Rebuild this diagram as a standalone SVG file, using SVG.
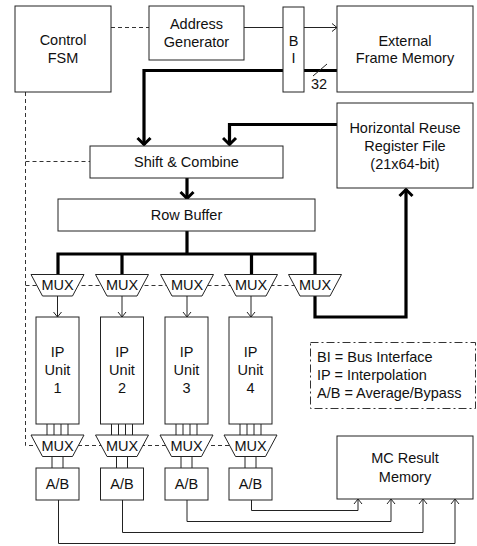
<svg xmlns="http://www.w3.org/2000/svg" width="477" height="546" viewBox="0 0 477 546">
<defs>
<style>
text{font-family:"Liberation Sans",Arial,sans-serif;font-size:14.5px;fill:#111;text-anchor:middle}
.box{fill:#fff;stroke:#222;stroke-width:1}
.thin{fill:none;stroke:#222;stroke-width:1}
.thick{fill:none;stroke:#000;stroke-width:3.2}
.dash{fill:none;stroke:#333;stroke-width:1;stroke-dasharray:4 3}
.dd{fill:none;stroke:#333;stroke-width:1;stroke-dasharray:8 3 2 3}
.lg{text-anchor:start}
</style>
<marker id="at" markerUnits="userSpaceOnUse" viewBox="0 0 10 10" refX="8" refY="5" markerWidth="10" markerHeight="10" orient="auto">
<path d="M3,1 L8,5 L3,9" fill="none" stroke="#222" stroke-width="1"/>
</marker>
<marker id="ak" markerUnits="userSpaceOnUse" viewBox="0 0 16 16" refX="13" refY="8" markerWidth="16" markerHeight="16" orient="auto">
<path d="M6,1.5 L12.5,8 L6,14.5" fill="none" stroke="#000" stroke-width="3"/>
</marker>
</defs>

<g id="connectors">
<path class="dash" d="M111,27.5 H149"/>
<path class="dash" d="M25.5,92 V445.5 H240"/>
<path class="dash" d="M25.5,161.5 H90"/>
<path class="dash" d="M25.5,285.5 H300"/>
<path class="thin" d="M244,27.5 H283"/>
<path class="thin" d="M304,27.5 H337" marker-end="url(#at)"/>
<path class="thick" d="M337,70.5 H144 V145" marker-end="url(#ak)"/>
<path class="thin" d="M313,76 L327,64"/>
<path class="thick" d="M337,124.5 H229.5 V145" marker-end="url(#ak)"/>
<path class="thick" d="M187,178 V199" marker-end="url(#ak)"/>
<path class="thick" d="M187,231 V254"/>
<path class="thick" d="M58,275 V254 H315 V317 H406 V189" marker-end="url(#ak)"/>
<path class="thick" d="M122,254 V275 M251.5,254 V275"/>
<path class="thin" d="M57.5,296 V317" marker-end="url(#at)"/>
<path class="thin" d="M122,296 V317" marker-end="url(#at)"/>
<path class="thin" d="M187,296 V317" marker-end="url(#at)"/>
<path class="thin" d="M251,296 V317" marker-end="url(#at)"/>
<path class="thin" d="M47,424 V435 M54,424 V435 M61,424 V435 M68,424 V435"/>
<path class="thin" d="M111.5,424 V435 M118.5,424 V435 M125.5,424 V435 M132.5,424 V435"/>
<path class="thin" d="M176,424 V435 M183,424 V435 M190,424 V435 M197,424 V435"/>
<path class="thin" d="M240,424 V435 M247,424 V435 M254,424 V435 M261,424 V435"/>
<path class="thin" d="M52,456 V468 M63,456 V468"/>
<path class="thin" d="M116.5,456 V468 M127.5,456 V468"/>
<path class="thin" d="M181,456 V468 M192,456 V468"/>
<path class="thin" d="M245,456 V468 M256,456 V468"/>
<path class="thin" d="M58.5,500 V543.5 H455 V499" marker-end="url(#at)"/>
<path class="thin" d="M122.5,500 V532.5 H423 V499" marker-end="url(#at)"/>
<path class="thin" d="M187,500 V521.5 H391 V499" marker-end="url(#at)"/>
<path class="thin" d="M251.5,500 V510.5 H358 V499" marker-end="url(#at)"/>
</g>

<g id="fsm"><rect class="box" x="15" y="6" width="96" height="86"/><text x="63" y="45">Control</text><text x="63" y="63">FSM</text></g>
<g id="addrgen"><rect class="box" x="149" y="6" width="95" height="54"/><text x="196.5" y="29">Address</text><text x="196.5" y="47">Generator</text></g>
<g id="bi"><rect class="box" x="283" y="7" width="21" height="85"/><text x="293.5" y="46">B</text><text x="293.5" y="63">I</text></g>
<g id="extmem"><rect class="box" x="337" y="6" width="136" height="86"/><text x="405" y="46">External</text><text x="405" y="63">Frame Memory</text></g>
<g id="buswidth"><text x="319" y="89">32</text></g>
<g id="hrrf"><rect class="box" x="337" y="103" width="136" height="85"/><text x="405" y="133">Horizontal Reuse</text><text x="405" y="151">Register File</text><text x="405" y="169">(21x64-bit)</text></g>
<g id="shift"><rect class="box" x="90" y="146" width="193" height="32"/><text x="186.5" y="167">Shift &amp; Combine</text></g>
<g id="rowbuf"><rect class="box" x="58" y="199" width="257" height="32"/><text x="186.5" y="220">Row Buffer</text></g>

<g id="mux1"><path class="box" d="M31,274.5 H84 L72.5,296 H42.5 Z"/><text x="57.5" y="290">MUX</text></g>
<g id="mux2"><path class="box" d="M95.5,274.5 H148.5 L137,296 H107 Z"/><text x="122" y="290">MUX</text></g>
<g id="mux3"><path class="box" d="M160.5,274.5 H213.5 L202,296 H172 Z"/><text x="187" y="290">MUX</text></g>
<g id="mux4"><path class="box" d="M224.5,274.5 H277.5 L266,296 H236 Z"/><text x="251" y="290">MUX</text></g>
<g id="mux5"><path class="box" d="M288.5,274.5 H341.5 L330,296 H300 Z"/><text x="315" y="290">MUX</text></g>

<g id="ip1"><rect class="box" x="36" y="317" width="43" height="107"/><text x="57.5" y="357">IP</text><text x="57.5" y="375">Unit</text><text x="57.5" y="393">1</text></g>
<g id="ip2"><rect class="box" x="100.5" y="317" width="43" height="107"/><text x="122" y="357">IP</text><text x="122" y="375">Unit</text><text x="122" y="393">2</text></g>
<g id="ip3"><rect class="box" x="165" y="317" width="43" height="107"/><text x="186.5" y="357">IP</text><text x="186.5" y="375">Unit</text><text x="186.5" y="393">3</text></g>
<g id="ip4"><rect class="box" x="229" y="317" width="43" height="107"/><text x="250.5" y="357">IP</text><text x="250.5" y="375">Unit</text><text x="250.5" y="393">4</text></g>

<g id="omux1"><path class="box" d="M31,435 H84 L72.5,456.5 H42.5 Z"/><text x="57.5" y="450.5">MUX</text></g>
<g id="omux2"><path class="box" d="M95.5,435 H148.5 L137,456.5 H107 Z"/><text x="122" y="450.5">MUX</text></g>
<g id="omux3"><path class="box" d="M160,435 H213 L201.5,456.5 H171.5 Z"/><text x="186.5" y="450.5">MUX</text></g>
<g id="omux4"><path class="box" d="M224,435 H277 L265.5,456.5 H235.5 Z"/><text x="250.5" y="450.5">MUX</text></g>

<g id="ab1"><rect class="box" x="36" y="468" width="43" height="32"/><text x="57.5" y="489">A/B</text></g>
<g id="ab2"><rect class="box" x="100.5" y="468" width="43" height="32"/><text x="122" y="489">A/B</text></g>
<g id="ab3"><rect class="box" x="165" y="468" width="43" height="32"/><text x="186.5" y="489">A/B</text></g>
<g id="ab4"><rect class="box" x="229" y="468" width="43" height="32"/><text x="250.5" y="489">A/B</text></g>

<g id="mcmem"><rect class="box" x="337" y="436" width="136" height="63"/><text x="405" y="463">MC Result</text><text x="405" y="482">Memory</text></g>

<g id="legend"><rect class="dd" x="310.5" y="342.5" width="165" height="66"/><text class="lg" x="317" y="362">BI = Bus Interface</text><text class="lg" x="317" y="380">IP = Interpolation</text><text class="lg" x="317" y="398">A/B = Average/Bypass</text></g>
</svg>
